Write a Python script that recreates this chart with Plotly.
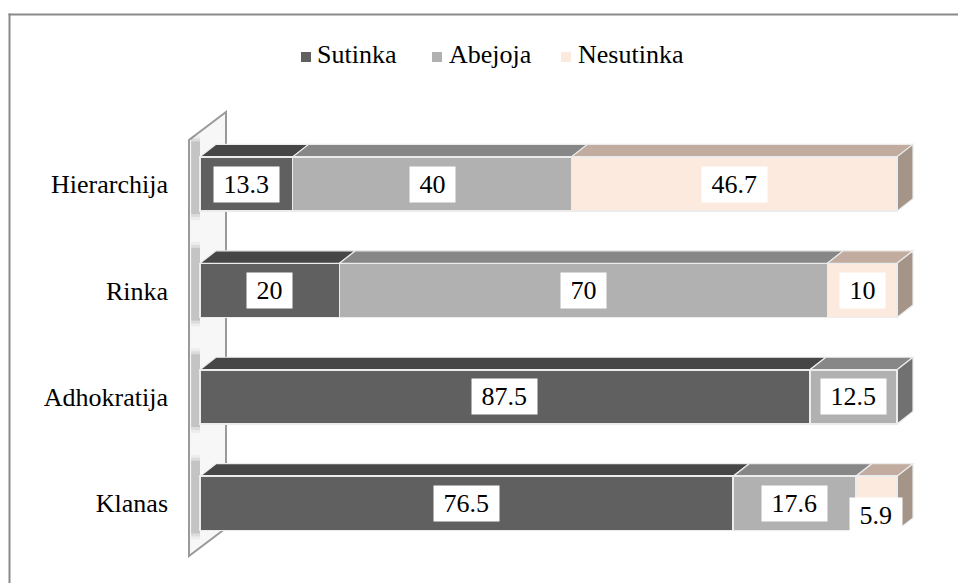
import numpy as np
import plotly.graph_objects as go

# ---------------- data ----------------
categories = ["Hierarchija", "Rinka", "Adhokratija", "Klanas"]
series_names = ["Sutinka", "Abejoja", "Nesutinka"]
sutinka = [13.3, 20, 87.5, 76.5]
abejoja = [40, 70, 12.5, 17.6]
nesutinka = [46.7, 10, 0, 5.9]

# ---------------- style ----------------
FONT = "Liberation Serif"
FS = 26
front_colors = ["#606060", "#b1b1b1", "#fdeadf"]
top_colors = ["#464646", "#878787", "#c1ac9f"]
side_colors = ["#404040", "#717171", "#a59589"]
edge_color = "#ececec"

W, H = 958, 583
L, R_PX = 179, 925         # plot area left/right pixel
T, B_PX = 100, 575         # plot area top/bottom pixel
X0_PX, PPX = 200, 6.97     # pixel of x=0 and pixels per unit
Y3_PX, PPY = 184, 106.45   # pixel of top category and pixels per category

def xd(px):
    return (px - X0_PX) / PPX

def yd(py):
    return 3 + (Y3_PX - py) / PPY

def xp(px):
    return (px - L) / (R_PX - L)

def yp(py):
    return (B_PX - py) / (B_PX - T)

n = len(categories)
ypos = [n - 1 - i for i in range(n)]
series = [sutinka, abejoja, nesutinka]
BW = 0.51
DX = 16 / PPX
DY = 12.5 / PPY

fig = go.Figure()
for name, vals, col in zip(series_names, series, front_colors):
    fig.add_trace(go.Bar(
        name=name, y=ypos, x=vals, orientation="h", width=BW,
        marker=dict(color=col, line=dict(color=edge_color, width=1.5)),
        showlegend=False, hoverinfo="x+name",
    ))

shapes = []
# frame: left edge only drawn as a shape; top edge as a thin filled band
shapes.append(dict(type="rect", xref="paper", yref="paper",
                   x0=xp(8.5), x1=xp(10.5), y0=yp(900), y1=yp(13.5),
                   fillcolor="#8a8a8a", line=dict(width=0), layer="above"))
shapes.append(dict(type="rect", xref="paper", yref="paper",
                   x0=xp(8.5), x1=xp(958), y0=yp(15.5), y1=yp(13.5),
                   fillcolor="#8a8a8a", line=dict(width=0), layer="above"))
# wall
wf, wb = xd(189), xd(226)
wall_path = (f"M{wf},{yd(556)} L{wf},{yd(140)} L{wb},{yd(112)} "
             f"L{wb},{yd(528)} Z")
shapes.append(dict(type="path", path=wall_path, xref="x", yref="y",
                   fillcolor="#f7f7f7", line=dict(color="#9a9a9a", width=2),
                   layer="below"))
# soft shadows of bars on wall
for yc in ypos:
    for k, a in enumerate([0.10, 0.07, 0.04]):
        s = (k + 1) * 3 / PPY
        shapes.append(dict(type="rect", xref="x", yref="y",
                           x0=wf + 0.3, x1=0,
                           y0=yc - BW / 2 - s, y1=yc + BW / 2 + DY + s,
                           fillcolor=f"rgba(0,0,0,{a})", line=dict(width=0),
                           layer="below"))

vals_arr = np.array(series, dtype=float)       # shape (3, n)
cum = np.vstack([np.zeros(n), np.cumsum(vals_arr, axis=0)])

annotations = []
for j in range(n):
    yc = ypos[j]
    yt = yc + BW / 2
    yb = yc - BW / 2
    last = max(k for k in range(len(series)) if vals_arr[k, j] > 0)
    for k in range(len(series)):
        v = vals_arr[k, j]
        if v <= 0:
            continue
        x0, x1 = cum[k, j], cum[k + 1, j]
        top = (f"M{x0},{yt} L{x1},{yt} L{x1 + DX},{yt + DY} "
               f"L{x0 + DX},{yt + DY} Z")
        shapes.append(dict(type="path", path=top, xref="x", yref="y",
                           fillcolor=top_colors[k],
                           line=dict(color=edge_color, width=1.2),
                           layer="below"))
        if k == last:
            side = (f"M{x1},{yb} L{x1},{yt} L{x1 + DX},{yt + DY} "
                    f"L{x1 + DX},{yb + DY} Z")
            shapes.append(dict(type="path", path=side, xref="x", yref="y",
                               fillcolor=side_colors[k],
                               line=dict(color=edge_color, width=1.2),
                               layer="below"))
        small = v < 8
        annotations.append(dict(
            x=(x0 + x1) / 2, y=yc, xref="x", yref="y",
            text="\u00a0" + f"{v:g}" + "\u00a0",
            showarrow=False, bgcolor="white", borderpad=3,
            font=dict(family=FONT, size=FS, color="black"),
            yshift=-12 if small else 0,
        ))

# custom legend
leg_sq = [311, 442, 571]   # right edge of square in px
leg_tx = [315, 447, 576]
for name, col, sq, tx in zip(series_names, front_colors, leg_sq, leg_tx):
    shapes.append(dict(type="rect", xref="paper", yref="paper",
                       x0=xp(sq - 10), x1=xp(sq), y0=yp(62), y1=yp(52),
                       fillcolor=col, line=dict(width=0)))
    annotations.append(dict(x=xp(tx), y=yp(55), xref="paper", yref="paper",
                            xanchor="left", yanchor="middle", text=name,
                            showarrow=False,
                            font=dict(family=FONT, size=FS, color="black")))

fig.update_layout(
    width=W, height=H,
    margin=dict(l=L, r=W - R_PX, t=T, b=H - B_PX, pad=0),
    paper_bgcolor="white", plot_bgcolor="rgba(0,0,0,0)",
    barmode="stack", showlegend=False,
    shapes=shapes, annotations=annotations,
    font=dict(family=FONT, size=FS, color="black"),
    xaxis=dict(range=[xd(L), xd(R_PX)], visible=False, fixedrange=True),
    yaxis=dict(range=[yd(B_PX), yd(T)], tickvals=ypos, ticktext=categories,
               showgrid=False, zeroline=False, showline=False, ticks="",
               ticklabelstandoff=10,
               tickfont=dict(family=FONT, size=FS, color="black"),
               fixedrange=True),
)

fig.write_html("out.html", config={"displayModeBar": False})
